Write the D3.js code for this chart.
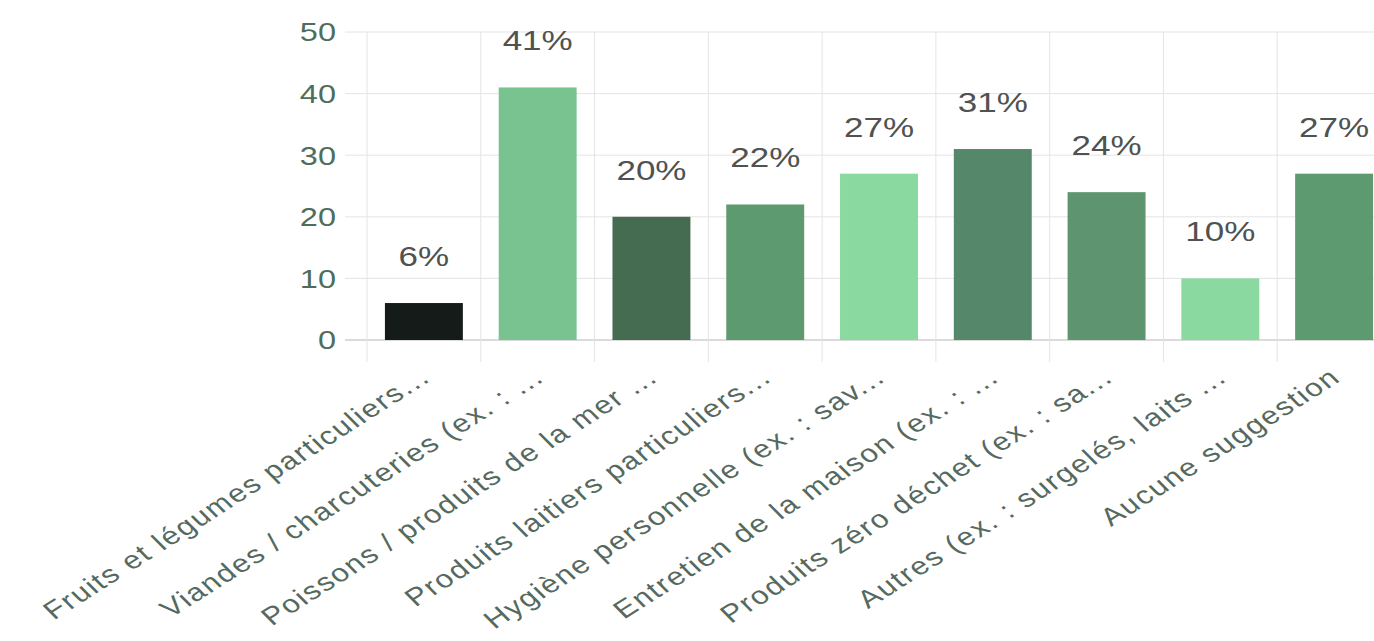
<!DOCTYPE html>
<html>
<head>
<meta charset="utf-8">
<script src="https://cdn.jsdelivr.net/npm/d3@7"></script>
<style>
  html, body { margin: 0; padding: 0; background: #fff; }
  svg { display: block; }
  text { font-family: "Liberation Sans", Arial, sans-serif; }
</style>
</head>
<body>
<svg id="chart" width="1374" height="641"></svg>
<script>
// Categories (axis labels as shown, truncated)
const categories = [
  "Fruits et légumes particuliers...",
  "Viandes / charcuteries (ex. : ...",
  "Poissons / produits de la mer ...",
  "Produits laitiers particuliers...",
  "Hygiène personnelle (ex. : sav...",
  "Entretien de la maison (ex. : ...",
  "Produits zéro déchet (ex. : sa...",
  "Autres (ex. : surgelés, laits ...",
  "Aucune suggestion"
];
// Share of respondents, percent
const values = [6, 41, 20, 22, 27, 31, 24, 10, 27];
const barColors = ["#151b18", "#79c391", "#456b51", "#5e9a70", "#89d9a0", "#55876a", "#5e9570", "#89d9a0", "#5e9a70"];
const yTicks = [0, 10, 20, 30, 40, 50];

const svg = d3.select("#chart");
const plotLeft = 367, plotRight = 1391, plotTop = 32, plotBottom = 340;
const sx = 1.25; // horizontal text stretch

const x = d3.scaleBand()
  .domain(categories)
  .range([plotLeft, plotRight])
  .paddingInner(0.315)
  .paddingOuter(0.1575);

const y = d3.scaleLinear().domain([0, 50]).range([plotBottom, plotTop]);

const grid = svg.append("g");
// horizontal grid lines, with short tick stubs to the left
grid.selectAll("line.h").data(yTicks).join("line")
  .attr("x1", plotLeft - 22).attr("x2", plotRight)
  .attr("y1", d => y(d)).attr("y2", d => y(d))
  .attr("stroke", d => d === 0 ? "#cfcfcf" : "#e4e4e4")
  .attr("stroke-width", d => d === 0 ? 1.5 : 1);

// vertical grid lines between categories
const bounds = d3.range(categories.length + 1).map(i => x.range()[0] + i * x.step());
grid.selectAll("line.v").data(bounds).join("line")
  .attr("x1", d => d).attr("x2", d => d)
  .attr("y1", plotTop).attr("y2", plotBottom + 22)
  .attr("stroke", "#e4e4e4").attr("stroke-width", 1);

// y tick labels
svg.append("g").selectAll("text").data(yTicks).join("text")
  .attr("transform", d => `translate(${plotLeft - 31},${y(d)}) scale(${sx},1)`)
  .attr("dy", "0.36em")
  .attr("text-anchor", "end")
  .attr("font-size", 26)
  .attr("fill", "#4e6d5d")
  .text(d => d);

// bars
svg.append("g").selectAll("rect").data(values).join("rect")
  .attr("x", (d, i) => x(categories[i]))
  .attr("width", x.bandwidth())
  .attr("y", d => y(d))
  .attr("height", d => y(0) - y(d))
  .attr("fill", (d, i) => barColors[i]);

// value labels above bars
svg.append("g").selectAll("text").data(values).join("text")
  .attr("transform", (d, i) => `translate(${x(categories[i]) + x.bandwidth() / 2},${y(d) - 37}) scale(${sx},1)`)
  .attr("text-anchor", "middle")
  .attr("font-size", 28)
  .attr("fill", "#4f524f")
  .text(d => d + "%");

// rotated category labels
svg.append("g").selectAll("text").data(categories).join("text")
  .attr("transform", d => `translate(${x(d) + x.bandwidth() / 2 + 8},${plotBottom + 40}) scale(${sx},1) rotate(-38.5)`)
  .attr("text-anchor", "end")
  .attr("font-size", 25)
  .attr("letter-spacing", 1.4)
  .attr("fill", "#56695e")
  .text(d => d);
</script>
</body>
</html>
